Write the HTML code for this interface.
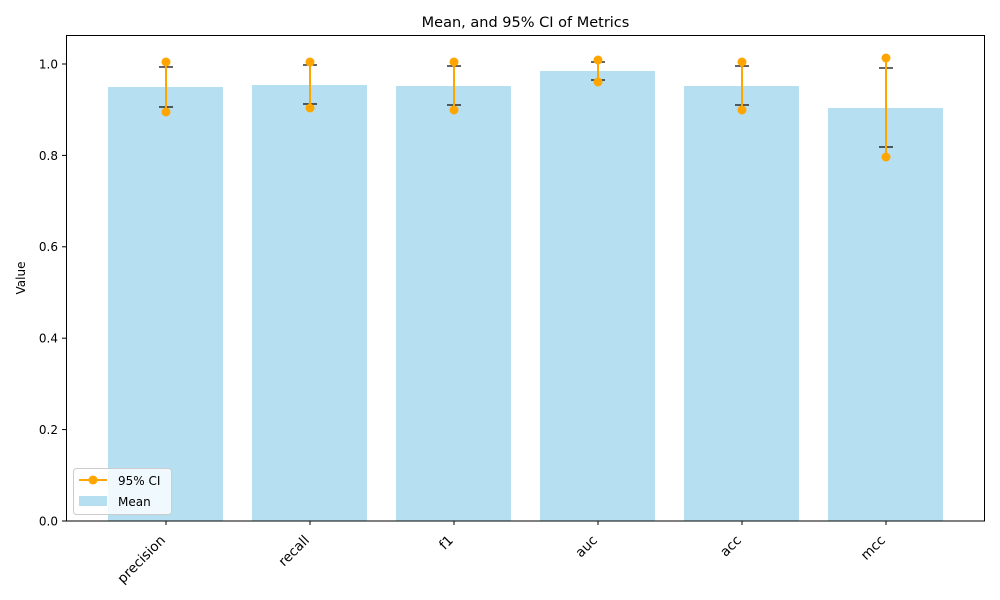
<!DOCTYPE html>
<html><head><meta charset="utf-8"><style>body{margin:0;background:#fff}svg{display:block;font-family:"DejaVu Sans","Liberation Sans",sans-serif}</style></head>
<body>
<svg width="1000" height="600" viewBox="0 0 1000 600">
<rect width="1000" height="600" fill="#fff"/>
<text x="525.5" y="27" font-size="14.5" text-anchor="middle">Mean, and 95% CI of Metrics</text>
<g fill="#b6e0f2">
<rect x="108" y="87" width="115" height="434"/>
<rect x="252" y="85" width="115" height="436"/>
<rect x="396" y="86" width="115" height="435"/>
<rect x="540" y="71" width="115" height="450"/>
<rect x="684" y="86" width="115" height="435"/>
<rect x="828" y="108" width="115" height="413"/>
</g>
<g stroke="#000" stroke-width="1.2">
<line x1="159" x2="173" y1="67" y2="67"/><line x1="159" x2="173" y1="107" y2="107"/>
<line x1="303" x2="317" y1="65" y2="65"/><line x1="303" x2="317" y1="104" y2="104"/>
<line x1="447" x2="461" y1="66" y2="66"/><line x1="447" x2="461" y1="105" y2="105"/>
<line x1="591" x2="605" y1="62" y2="62"/><line x1="591" x2="605" y1="80" y2="80"/>
<line x1="735" x2="749" y1="66" y2="66"/><line x1="735" x2="749" y1="105" y2="105"/>
<line x1="879" x2="893" y1="68" y2="68"/><line x1="879" x2="893" y1="147" y2="147"/>
</g>
<g stroke="#ffa500" stroke-width="2" fill="#ffa500">
<line x1="166" x2="166" y1="62" y2="112"/><circle cx="166" cy="62" r="4.5" stroke="none"/><circle cx="166" cy="112" r="4.5" stroke="none"/>
<line x1="310" x2="310" y1="62" y2="108"/><circle cx="310" cy="62" r="4.5" stroke="none"/><circle cx="310" cy="108" r="4.5" stroke="none"/>
<line x1="454" x2="454" y1="62" y2="110"/><circle cx="454" cy="62" r="4.5" stroke="none"/><circle cx="454" cy="110" r="4.5" stroke="none"/>
<line x1="598" x2="598" y1="60" y2="82"/><circle cx="598" cy="60" r="4.5" stroke="none"/><circle cx="598" cy="82" r="4.5" stroke="none"/>
<line x1="742" x2="742" y1="62" y2="110"/><circle cx="742" cy="62" r="4.5" stroke="none"/><circle cx="742" cy="110" r="4.5" stroke="none"/>
<line x1="886" x2="886" y1="58" y2="157"/><circle cx="886" cy="58" r="4.5" stroke="none"/><circle cx="886" cy="157" r="4.5" stroke="none"/>
</g>
<rect x="66.5" y="35.5" width="918" height="485.5" fill="none" stroke="#000" stroke-width="1"/>
<g stroke="#000" stroke-width="1">
<line x1="62" x2="66" y1="521" y2="521"/><line x1="62" x2="66" y1="429.6" y2="429.6"/><line x1="62" x2="66" y1="338.2" y2="338.2"/><line x1="62" x2="66" y1="246.8" y2="246.8"/><line x1="62" x2="66" y1="155.4" y2="155.4"/><line x1="62" x2="66" y1="64" y2="64"/>
<line x1="166" x2="166" y1="521" y2="525"/><line x1="310" x2="310" y1="521" y2="525"/><line x1="454" x2="454" y1="521" y2="525"/><line x1="598" x2="598" y1="521" y2="525"/><line x1="742" x2="742" y1="521" y2="525"/><line x1="886" x2="886" y1="521" y2="525"/>
</g>
<g font-size="12" text-anchor="end">
<text x="58" y="525.5">0.0</text><text x="58" y="434">0.2</text><text x="58" y="342.5">0.4</text><text x="58" y="251">0.6</text><text x="58" y="160">0.8</text><text x="58" y="68.5">1.0</text>
</g>
<g font-size="13.5" text-anchor="end">
<text transform="translate(166,541) rotate(-45)">precision</text>
<text transform="translate(310,541) rotate(-45)">recall</text>
<text transform="translate(454,541) rotate(-45)">f1</text>
<text transform="translate(598,541) rotate(-45)">auc</text>
<text transform="translate(742,541) rotate(-45)">acc</text>
<text transform="translate(886,541) rotate(-45)">mcc</text>
</g>
<text transform="translate(25,278) rotate(-90)" font-size="12" text-anchor="middle">Value</text>
<rect x="73.5" y="468.5" width="98" height="46" rx="3" fill="#fff" fill-opacity="0.8" stroke="#ccc"/>
<line x1="79" x2="107" y1="480" y2="480" stroke="#ffa500" stroke-width="2"/><circle cx="93" cy="480" r="4.5" fill="#ffa500"/>
<rect x="79" y="496" width="28" height="10" fill="#b6e0f2"/>
<text x="118" y="485" font-size="12">95% CI</text>
<text x="118" y="506" font-size="12">Mean</text>
</svg>
</body></html>
